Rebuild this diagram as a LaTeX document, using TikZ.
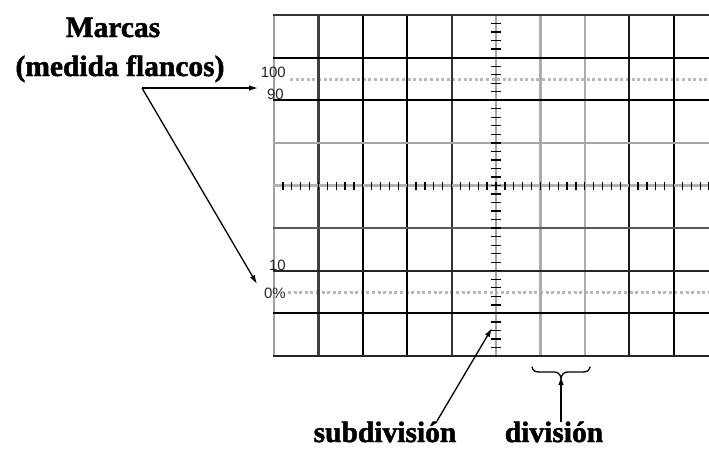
\documentclass[tikz,border=0pt]{standalone}
\usepackage{fontspec}
\setmainfont{Liberation Serif}[BoldFeatures={FakeBold=1.6}]
\setsansfont{Liberation Sans}
\usetikzlibrary{arrows.meta}
\begin{document}
\begin{tikzpicture}[x=1pt,y=-1pt,
  gl/.style={line width=2.2pt},
  tickmark/.style={line width=1.3pt, black},
  dots/.style={line width=2.4pt, gray!55, dash pattern=on 3pt off 2.6pt},
  lbl/.style={font=\fontsize{29.5}{32}\selectfont\bfseries, inner sep=0pt, anchor=base},
  num/.style={font=\sffamily\fontsize{15}{15}\selectfont, inner sep=0pt, anchor=east, black!85},
  arr/.style={line width=1.3pt, -{Latex[length=9pt,width=5.5pt]}}]
\useasboundingbox (0,0) rectangle (709,448);
\fill[white] (0,0) rectangle (709,448);
\begin{scope}
\clip (0,0) rectangle (709,448);
% dotted 0% / 100% lines
\draw[dots] (290,79.5) -- (720,79.5);
\draw[dots] (288,292.5) -- (720,292.5);
% vertical grid lines
\foreach \i/\c in {0/gray!75,1/black!75,2/black,3/black,4/black!80,5/gray!70,6/gray!65,7/gray!65,8/black!90,9/black,10/black}
  \draw[gl,\c] ({274+44.4*\i},15) -- ({274+44.4*\i},356);
% horizontal grid lines
\foreach \j/\c in {0/black!80,1/black,2/black,3/gray!70,4/gray!60,5/black!65,6/black!85,7/black,8/black!85}
  \draw[gl,\c] (273,{15+42.625*\j}) -- (720,{15+42.625*\j});
% subdivision ticks on the central axes
\foreach \k in {1,...,39}
  \draw[tickmark] (491,{15+8.525*\k}) -- (501,{15+8.525*\k});
\foreach \k in {1,...,49}
  \draw[tickmark] ({274+8.88*\k},181.5) -- ({274+8.88*\k},189.5);
\end{scope}
% scale labels
\node[num] (l100) at (286,72) {100};
\node[num] (l90) at (284,94) {90};
\node[num] (l10) at (286,265) {10};
\node[num] (l0) at (286,293.5) {0\%};
% titles
\node[lbl] (marcas) at (113,37) {Marcas};
\node[lbl] (flancos) at (120,76) {(medida flancos)};
\node[lbl] (subdiv) at (385,442) {subdivisión};
\node[lbl] (div) at (554,442) {división};
% arrows for marks
\coordinate (jn) at (142,88);
\coordinate (t90) at (258,88);
\coordinate (t0) at (257,284);
\draw[arr] (jn) -- (t90);
\draw[arr] (jn) -- (t0);
% subdivision arrow
\coordinate (s0) at (437,421);
\coordinate (s1) at (492,328);
\draw[arr] (s0) -- (s1);
% division brace and arrow
\coordinate (d0) at (561,422);
\coordinate (d1) at (561,376);
\draw[line width=1.3pt, line cap=round]
  (532,367) .. controls (533,371) and (535,372) .. (540,372) -- (554,372)
  .. controls (558,372) and (560,374) .. (561,378)
  .. controls (562,374) and (564,372) .. (568,372) -- (582,372)
  .. controls (587,372) and (589,371) .. (590,367);
\draw[arr] (d0) -- (d1);
\end{tikzpicture}
\end{document}
